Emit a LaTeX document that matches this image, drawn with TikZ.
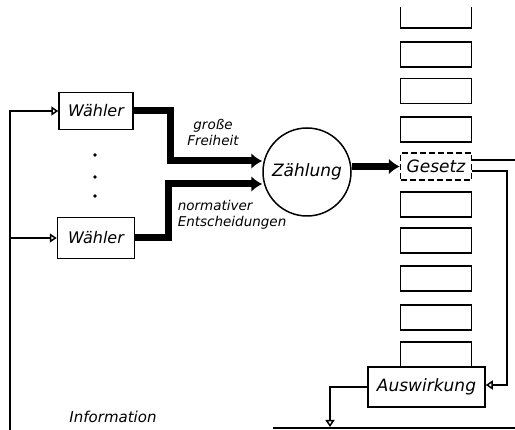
\documentclass[tikz,border=0pt]{standalone}
\usepackage{fontspec}
\setmainfont{DejaVu Sans}
\usepackage{tikz}
\usetikzlibrary{arrows.meta}

\begin{document}
\begin{tikzpicture}[x=1pt, y=-1pt, line width=1.5pt,
  font=\itshape\fontsize{16}{18}\selectfont,
  box/.style={draw, inner sep=1pt, minimum width=71pt, minimum height=25pt},
  label/.style={font=\itshape\fontsize{13.5}{16}\selectfont, inner sep=0pt},
  fat/.style={line width=7pt, -{Latex[length=11pt,width=16pt]}},
  openarrow/.style={-{Triangle[open,length=7pt,width=9pt]}}]
  \useasboundingbox (0,0) rectangle (515,430);
  \node[box, minimum width=74pt, minimum height=37pt] (w1) at (96,111) {Wähler};
  \node[box, minimum width=77pt, minimum height=41pt] (w2) at (96,238) {Wähler};
  \fill (95,155) circle (1.8pt) (95,177) circle (1.8pt) (95,196) circle (1.8pt);
  \node[draw, circle, minimum size=88pt, inner sep=0pt, font=\itshape\fontsize{17}{18}\selectfont] (z) at (307,172) {Zählung};
  \node[label, align=center] (fr) at (213,132) {große\\Freiheit};
  \node[label, align=left, anchor=west] (ent) at (177,215) {normativer\\Entscheidungen};
  \node[box] (s1) at (436,54.5) {};
  \node[box] (s2) at (436,91) {};
  \node[box] (s3) at (436,129.5) {};
  \node[box, minimum height=27pt, dash pattern=on 6pt off 3pt, font=\itshape\fontsize{17}{18}\selectfont] (g) at (436,166.5) {Gesetz};
  \node[box] (s4) at (436,204.5) {};
  \node[box] (s5) at (436,240.5) {};
  \node[box] (s6) at (436,278.5) {};
  \node[box] (s7) at (436,317.5) {};
  \node[box] (s8) at (436,354.5) {};
  \node[box, fill=white, minimum width=117pt, minimum height=40pt, font=\itshape\fontsize{17}{18}\selectfont] (a) at (426.5,387) {Auswirkung};
  \node[font=\itshape\fontsize{15}{18}\selectfont] (inf) at (113,417) {Information};
  \draw (400.5,7) -- (400.5,28) -- (471.5,28) -- (471.5,7);
  \coordinate (k1) at (170,161);
  \coordinate (k2) at (168,184);
  \coordinate (l) at (10,430);
  \coordinate (r) at (515,160);
  \coordinate (e) at (507,385);
  \coordinate (i) at (330,427);
  \coordinate (b1) at (273,428);
  \coordinate (b2) at (515,428);
  \draw[fat] (w1.east) -| (k1) -- (k1 -| z.west);
  \draw[fat] (w2.east) -| (k2) -- (k2 -| z.west);
  \draw[fat] (z.east |- g.west) -- (g.west);
  \draw[openarrow] (l) |- (w1.west);
  \draw[openarrow] (w2.west -| l) -- (w2.west);
  \draw ([yshift=6.5pt]g.east) -- (r);
  \draw[openarrow] ([yshift=-4.5pt]g.east) -| (e) -- (e -| a.east);
  \draw[openarrow] (a.west) -| (i);
  \draw (b1) -- (b2);
\end{tikzpicture}
\end{document}
